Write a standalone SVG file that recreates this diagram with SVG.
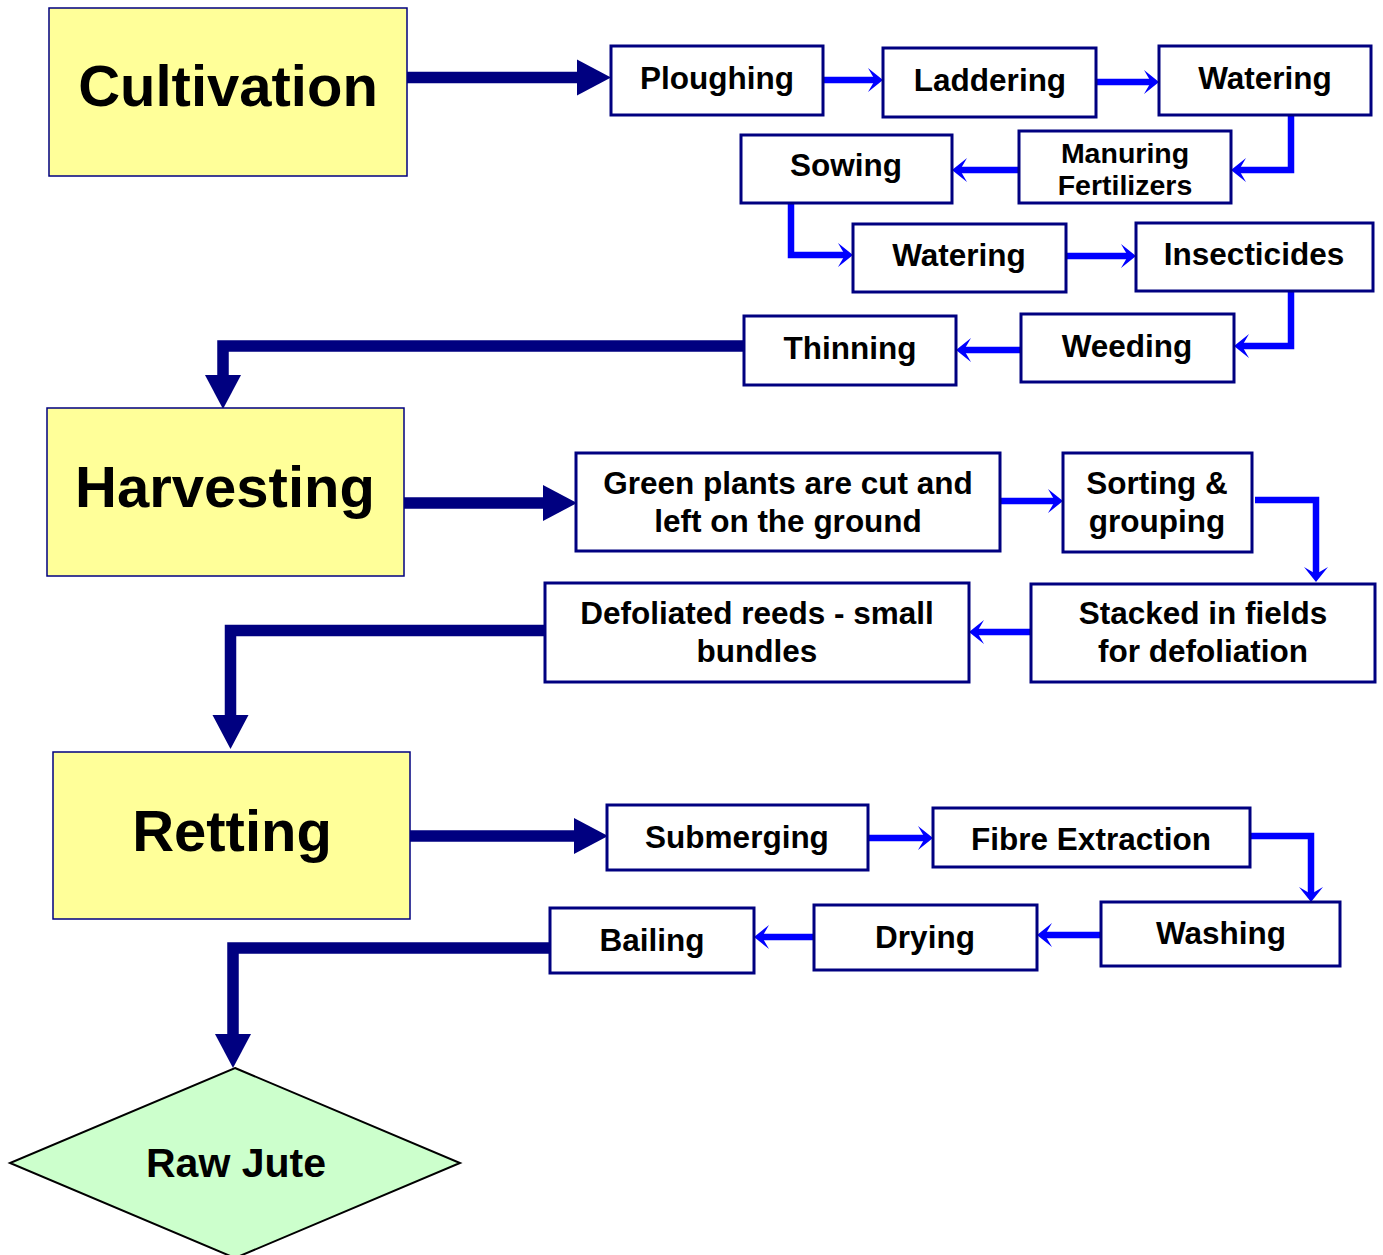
<svg xmlns="http://www.w3.org/2000/svg" width="1383" height="1255" viewBox="0 0 1383 1255">
  <style>
    text { font-family: "Liberation Sans", Arial, Helvetica, sans-serif; font-weight: bold; fill: #000; text-anchor: middle; }
    .stage { fill: #FFFF99; stroke: #000080; stroke-width: 1.5; }
    .step { fill: #FFFFFF; stroke: #000080; stroke-width: 3; }
    .big { font-size: 58px; }
    .lbl { font-size: 31.5px; }
    .lbl2 { font-size: 28.5px; }
    .main { fill: none; stroke: #000080; stroke-width: 11.5; stroke-linejoin: miter; }
    .sub { fill: none; stroke: #0000FF; stroke-width: 6.5; stroke-linejoin: miter; }
  </style>
  <defs>
    <!-- heavy triangular head, drawn beyond the line end -->
    <marker id="mainHead" markerUnits="userSpaceOnUse" viewBox="-1 -19 36 38" refX="0" refY="0" markerWidth="36" markerHeight="38" orient="auto" overflow="visible">
      <path d="M0,-18 L34,0 L0,18 Z" fill="#000080"/>
    </marker>
    <!-- notched light head, tip 8px beyond the line end -->
    <marker id="subHead" markerUnits="userSpaceOnUse" viewBox="-8 -13 17 26" refX="0" refY="0" markerWidth="17" markerHeight="26" orient="auto" overflow="visible">
      <path d="M8,0 L-7,-12 L0,0 L-7,12 Z" fill="#0000FF"/>
    </marker>
  </defs>

  <!-- connectors -->
  <g id="connectors">
    <path class="main" d="M407,77.5 H577" marker-end="url(#mainHead)"/>
    <path class="sub" d="M823,80 H875" marker-end="url(#subHead)"/>
    <path class="sub" d="M1096,82 H1151" marker-end="url(#subHead)"/>
    <path class="sub" d="M1291,115 V170 H1239" marker-end="url(#subHead)"/>
    <path class="sub" d="M1019,170 H960" marker-end="url(#subHead)"/>
    <path class="sub" d="M791,203 V255 H845" marker-end="url(#subHead)"/>
    <path class="sub" d="M1066,256 H1128" marker-end="url(#subHead)"/>
    <path class="sub" d="M1291,291 V346 H1242" marker-end="url(#subHead)"/>
    <path class="sub" d="M1021,350 H964" marker-end="url(#subHead)"/>
    <path class="main" d="M744,346 H223 V375" marker-end="url(#mainHead)"/>

    <path class="main" d="M404,503 H543" marker-end="url(#mainHead)"/>
    <path class="sub" d="M1000,501 H1055" marker-end="url(#subHead)"/>
    <path class="sub" d="M1255,500 H1316 V574" marker-end="url(#subHead)"/>
    <path class="sub" d="M1031,632 H977" marker-end="url(#subHead)"/>
    <path class="main" d="M545,630.5 H230.5 V715" marker-end="url(#mainHead)"/>

    <path class="main" d="M410,836 H574" marker-end="url(#mainHead)"/>
    <path class="sub" d="M868,838 H925" marker-end="url(#subHead)"/>
    <path class="sub" d="M1250,836 H1311 V894" marker-end="url(#subHead)"/>
    <path class="sub" d="M1101,935 H1045" marker-end="url(#subHead)"/>
    <path class="sub" d="M814,937 H762" marker-end="url(#subHead)"/>
    <path class="main" d="M550,948 H233 V1034" marker-end="url(#mainHead)"/>
  </g>

  <!-- stage: cultivation -->
  <g id="cultivation">
    <rect class="stage" x="49" y="8" width="358" height="168"/>
    <text class="big" x="228" y="106">Cultivation</text>
  </g>
  <g id="ploughing">
    <rect class="step" x="611" y="46" width="212" height="69"/>
    <text class="lbl" x="717" y="89">Ploughing</text>
  </g>
  <g id="laddering">
    <rect class="step" x="883" y="48" width="213" height="69"/>
    <text class="lbl" x="990" y="91">Laddering</text>
  </g>
  <g id="watering-1">
    <rect class="step" x="1159" y="46" width="212" height="69"/>
    <text class="lbl" x="1265" y="89">Watering</text>
  </g>
  <g id="manuring">
    <rect class="step" x="1019" y="131" width="212" height="72"/>
    <text class="lbl2" x="1125" y="163">Manuring</text>
    <text class="lbl2" x="1125" y="195">Fertilizers</text>
  </g>
  <g id="sowing">
    <rect class="step" x="741" y="135" width="211" height="68"/>
    <text class="lbl" x="846" y="176">Sowing</text>
  </g>
  <g id="watering-2">
    <rect class="step" x="853" y="224" width="213" height="68"/>
    <text class="lbl" x="959" y="266">Watering</text>
  </g>
  <g id="insecticides">
    <rect class="step" x="1136" y="223" width="237" height="68"/>
    <text class="lbl" x="1254" y="265">Insecticides</text>
  </g>
  <g id="weeding">
    <rect class="step" x="1021" y="314" width="213" height="68"/>
    <text class="lbl" x="1127" y="357">Weeding</text>
  </g>
  <g id="thinning">
    <rect class="step" x="744" y="316" width="212" height="69"/>
    <text class="lbl" x="850" y="359">Thinning</text>
  </g>

  <!-- stage: harvesting -->
  <g id="harvesting">
    <rect class="stage" x="47" y="408" width="357" height="168"/>
    <text class="big" x="225" y="507">Harvesting</text>
  </g>
  <g id="green-plants">
    <rect class="step" x="576" y="453" width="424" height="98"/>
    <text class="lbl" x="788" y="494">Green plants are cut and</text>
    <text class="lbl" x="788" y="532">left on the ground</text>
  </g>
  <g id="sorting">
    <rect class="step" x="1063" y="453" width="189" height="99"/>
    <text class="lbl" x="1157" y="494">Sorting &amp;</text>
    <text class="lbl" x="1157" y="532">grouping</text>
  </g>
  <g id="stacked">
    <rect class="step" x="1031" y="584" width="344" height="98"/>
    <text class="lbl" x="1203" y="624">Stacked in fields</text>
    <text class="lbl" x="1203" y="662">for defoliation</text>
  </g>
  <g id="defoliated">
    <rect class="step" x="545" y="583" width="424" height="99"/>
    <text class="lbl" x="757" y="624">Defoliated reeds - small</text>
    <text class="lbl" x="757" y="662">bundles</text>
  </g>

  <!-- stage: retting -->
  <g id="retting">
    <rect class="stage" x="53" y="752" width="357" height="167"/>
    <text class="big" x="232" y="851">Retting</text>
  </g>
  <g id="submerging">
    <rect class="step" x="607" y="805" width="261" height="65"/>
    <text class="lbl" x="737" y="848">Submerging</text>
  </g>
  <g id="fibre-extraction">
    <rect class="step" x="933" y="808" width="317" height="59"/>
    <text class="lbl" x="1091" y="850">Fibre Extraction</text>
  </g>
  <g id="washing">
    <rect class="step" x="1101" y="902" width="239" height="64"/>
    <text class="lbl" x="1221" y="944">Washing</text>
  </g>
  <g id="drying">
    <rect class="step" x="814" y="905" width="223" height="65"/>
    <text class="lbl" x="925" y="948">Drying</text>
  </g>
  <g id="bailing">
    <rect class="step" x="550" y="908" width="204" height="65"/>
    <text class="lbl" x="652" y="951">Bailing</text>
  </g>

  <!-- outcome -->
  <g id="raw-jute">
    <polygon points="235,1068 460,1163 235,1258 10,1163" fill="#CCFFCC" stroke="#000" stroke-width="2"/>
    <text x="236" y="1177" style="font-size:41px">Raw Jute</text>
  </g>
</svg>
